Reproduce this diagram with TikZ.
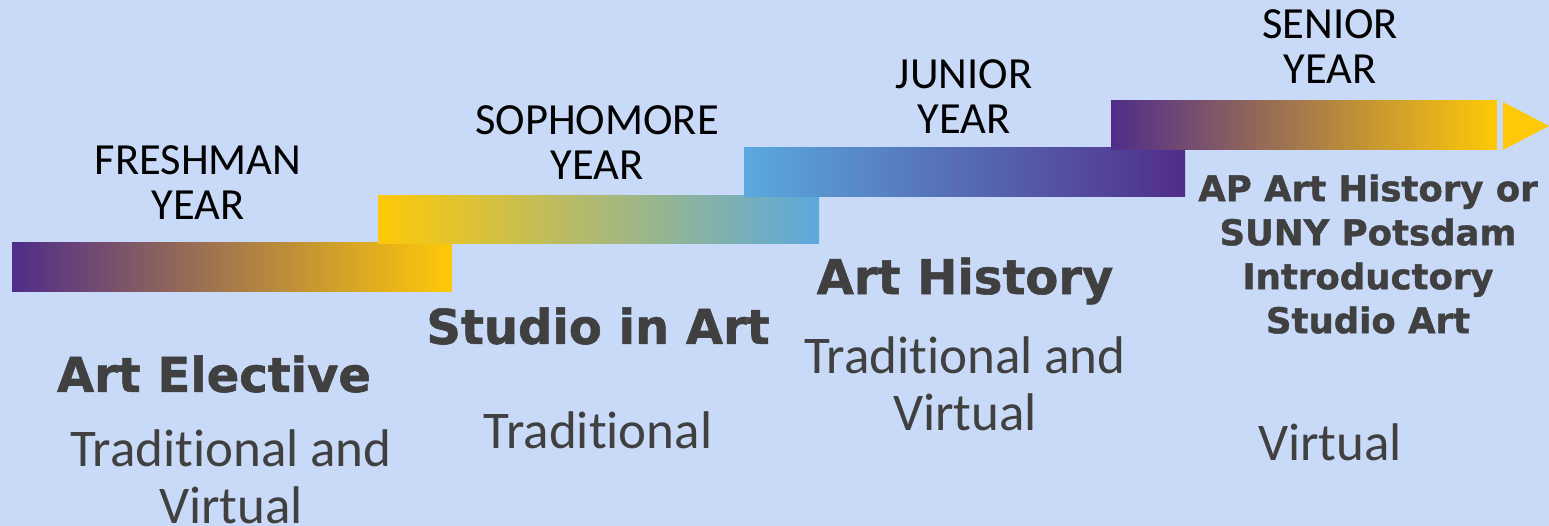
\documentclass[tikz,border=0pt]{standalone}
\usepackage{fontspec}
\setmainfont{Carlito}[Ligatures=NoCommon]
\newfontfamily\heavyfont{DejaVu Sans}[BoldFeatures={FakeBold=1.2}]
\usetikzlibrary{positioning}
\definecolor{bgblue}{RGB}{200,218,247}
\definecolor{artpurple}{RGB}{80,45,138}
\definecolor{artyellow}{RGB}{255,201,8}
\definecolor{artblue}{RGB}{91,169,222}
\definecolor{txtgray}{RGB}{64,64,64}
\begin{document}
\begin{tikzpicture}[x=1pt,y=-1pt]
                  \tikzset{bar/.style = {minimum height = 49pt,inner sep = 0pt,outer sep = 0pt,anchor = north west}}
                  \tikzset{yearlabel/.style = {align = center,inner sep = 0pt,text = black,font = \fontsize{44.5}{45}\selectfont}}
                  \tikzset{course/.style = {align = center,inner sep = 0pt,text = txtgray,font = \heavyfont\bfseries\fontsize{48}{52}\selectfont}}
                  \tikzset{apcourse/.style = {course,font = \heavyfont\bfseries\fontsize{35.5}{44}\selectfont}}
                  \tikzset{mode/.style = {align = center,inner sep = 0pt,text = txtgray,font = \fontsize{53}{57}\selectfont}}
                  \fill[bgblue] (0,0) rectangle (1549,526);
                  \useasboundingbox (0,0) rectangle (1549,526);
                  % timeline bars
                  \node[bar,minimum width = 440pt,left color = artpurple,right color = artyellow] (fresh) at (12,243) {};
                  \node[bar,minimum width = 441pt,minimum height = 48pt,left color = artyellow,right color = artblue] (soph) at (378,196) {};
                  \node[bar,minimum width = 441pt,left color = artblue,right color = artpurple] (junior) at (744,148) {};
                  \node[bar,minimum width = 386pt,left color = artpurple,right color = artyellow] (senior) at (1111,101) {};
                  \coordinate (tip) at (1549,126);
                  \fill[artyellow] (1503,102) -- (tip) -- (1503,150) -- cycle;
                  % year labels
                  \node[yearlabel] (freshlbl) at (198,183) {FRESHMAN\\YEAR};
                  \node[yearlabel] (sophlbl) at (597,143) {SOPHOMORE\\YEAR};
                  \node[yearlabel] (juniorlbl) at (964,97) {JUNIOR\\YEAR};
                  \node[yearlabel] (seniorlbl) at (1330,47) {SENIOR\\YEAR};
                  % courses
                  \node[course] (elective) at (214,374) {Art Elective};
                  \node[course] (studio) at (598,326) {Studio in Art};
                  \node[course] (history) at (965,281) {Art History};
                  \node[apcourse] (ap) at (1368,254) {AP Art History or\\SUNY Potsdam\\Introductory\\Studio Art};
                  % modes
                  \node[mode] (electivemode) at (231,477) {Traditional and\\Virtual};
                  \node[mode] (studiomode) at (598,430) {Traditional};
                  \node[mode] (historymode) at (965,384) {Traditional and\\Virtual};
                  \node[mode] (apmode) at (1330,442) {Virtual};
\end{tikzpicture}
\end{document}
